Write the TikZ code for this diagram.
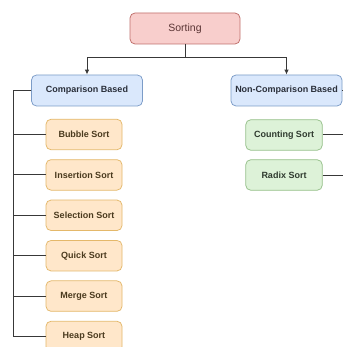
\documentclass[tikz,border=0pt]{standalone}
\usepackage{fontspec}
\setmainfont{Liberation Sans}
\usetikzlibrary{positioning,arrows.meta}

\definecolor{rootfill}{HTML}{F8CECC}
\definecolor{rootline}{HTML}{C0706C}
\definecolor{roottext}{HTML}{5A3434}
\definecolor{catfill}{HTML}{DAE8FC}
\definecolor{catline}{HTML}{7C9CC8}
\definecolor{cattext}{HTML}{2A2F3A}
\definecolor{cmpfill}{HTML}{FFE7CA}
\definecolor{cmpline}{HTML}{E4B86A}
\definecolor{cmptext}{HTML}{4A3A1E}
\definecolor{noncmpfill}{HTML}{DDF2D8}
\definecolor{noncmpline}{HTML}{96C08A}
\definecolor{noncmptext}{HTML}{2F3A2F}
\definecolor{wire}{HTML}{383838}

\begin{document}
\begin{tikzpicture}[x=1pt,y=-1pt,
    box/.style={draw,rectangle,rounded corners=5pt,line width=0.75pt,
        font=\fontsize{9}{10}\selectfont\bfseries,inner sep=0pt},
    rootbox/.style={box,fill=rootfill,draw=rootline,text=roottext,minimum width=110pt,minimum height=31pt,
        font=\fontsize{10.5}{12}\selectfont},
    catbox/.style={box,fill=catfill,draw=catline,text=cattext,minimum width=111pt,minimum height=31pt},
    cmpbox/.style={box,fill=cmpfill,draw=cmpline,text=cmptext,minimum width=76pt,minimum height=30.5pt},
    noncmpbox/.style={box,fill=noncmpfill,draw=noncmpline,text=noncmptext,minimum width=76.5pt,minimum height=30.5pt},
    link/.style={draw=wire,line width=1pt},
    arrow/.style={link,-{Latex[length=5pt,width=4.5pt]}}]
    \useasboundingbox (0,0) rectangle (343,347);
    \fill[white] (0,0) rectangle (343,347);

    \node[rootbox] (sorting) at (185,28.5) {Sorting};
    \node[catbox] (comp) at (87,90.5) {Comparison Based};
    \node[catbox] (noncomp) at (286.5,90.5) {Non-Comparison Based};

    % split under the root
    \coordinate (split) at (185,58);
    \draw[link] (sorting) -- (split);
    \draw[arrow] (split) -| (comp);
    \draw[arrow] (split) -| (noncomp);

    % comparison based sorts
    \coordinate (spine) at (13,90.5);
    \foreach \name/\label [count=\i] in {bubble/Bubble Sort, insertion/Insertion Sort,
        selection/Selection Sort, quick/Quick Sort, merge/Merge Sort, heap/Heap Sort}
    {
        \node[cmpbox] (\name) at (84,{134.5+40.4*(\i-1)}) {\label};
        \draw[link] (comp.west) -- (spine) |- (\name.west);
    }

    % non-comparison based sorts
    \node[noncmpbox] (counting) at (284,135) {Counting Sort};
    \node[noncmpbox] (radix) at (284,175) {Radix Sort};
    \coordinate (noncompout) at (343,90.5);
    \coordinate (countingout) at (343,135);
    \coordinate (radixout) at (343,175);
    \draw[link] (noncomp.east) -- (noncompout);
    \draw[link] (counting.east) -- (countingout);
    \draw[link] (radix.east) -- (radixout);
\end{tikzpicture}
\end{document}
